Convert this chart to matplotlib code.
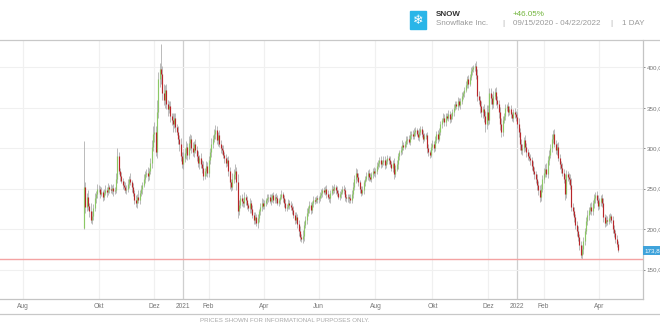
# -*- coding: utf-8 -*-
import matplotlib.pyplot as plt
import numpy as np
import pandas as pd
from matplotlib.lines import Line2D
from matplotlib.patches import Rectangle

# daily closes, 09/16/2020 .. 04/22/2022, one row per month
closes = [
    252, 228, 240, 229, 222, 212, 216, 226, 238, 243, 250,
    250, 244, 246, 240, 245, 248, 246, 252, 250, 248, 251, 247, 249, 262, 290, 272, 266, 260, 255, 252, 248, 250,
    256, 262, 258, 252, 245, 236, 232, 240, 236, 245, 250, 255, 262, 268, 270, 266, 272, 282, 302, 318,
    320, 296, 345, 385, 398, 392, 368, 360, 372, 355, 348, 352, 340, 335, 330, 338, 326, 320, 312, 305, 290, 281,
    288, 294, 302, 292, 306, 312, 300, 296, 305, 298, 290, 282, 288, 280, 276, 266, 272, 278, 270,
    285, 295, 305, 312, 318, 322, 310, 316, 305, 300, 298, 292, 288, 282, 285, 272, 258, 252, 262,
    268, 272, 258, 222, 230, 238, 235, 232, 240, 236, 230, 226, 232, 225, 218, 212, 215, 208, 214, 222, 228, 232, 229,
    232, 236, 238, 240, 235, 238, 242, 236, 240, 238, 233, 236, 240, 243, 238, 232, 226, 228, 233, 230, 228,
    224, 218, 212, 215, 206, 198, 190, 188, 192, 205, 212, 220, 226, 230, 224, 232, 236, 235, 238, 237,
    238, 242, 245, 248, 246, 250, 244, 240, 238, 245, 250, 248, 252, 249, 245, 240, 244, 246, 250, 248, 240, 238,
    240, 238, 236, 244, 252, 262, 270, 265, 258, 250, 245, 248, 258, 262, 266, 270, 264, 262, 268, 272, 270,
    272, 278, 282, 285, 280, 283, 286, 279, 284, 288, 285, 280, 276, 282, 268, 275, 280, 290, 295, 298, 304, 302,
    305, 310, 312, 308, 316, 318, 315, 320, 322, 318, 314, 320, 324, 318, 312, 315, 316, 300, 295, 292, 302,
    305, 300, 310, 318, 312, 320, 330, 335, 338, 332, 340, 338, 342, 336, 340, 345, 350, 355, 352, 358, 354,
    358, 365, 368, 372, 378, 385, 380, 388, 395, 398, 400, 402, 390, 365, 360, 352, 345, 348, 340, 330, 345,
    335, 368, 362, 355, 365, 370, 360, 355, 345, 330, 320, 335, 340, 350, 352, 345, 348, 342, 338, 345, 342, 339,
    330, 320, 305, 298, 300, 310, 302, 295, 290, 288, 285, 278, 272, 268, 262, 255, 248, 240, 250, 262,
    270, 275, 268, 285, 292, 300, 312, 318, 305, 298, 302, 288, 280, 276, 270, 262, 244, 268, 265,
    262, 255, 228, 222, 215, 205, 198, 190, 180, 168, 175, 186, 198, 210, 218, 224, 228, 222, 232, 238, 242, 236, 229,
    234, 238, 232, 215, 208, 212, 210, 214, 216, 212, 200, 195, 188, 182, 173.8,
]
# wick length above the body and below the body
upper_wick = [
    57, 6, 5, 8, 4, 10, 6, 5, 7, 4, 6,
    5, 4, 6, 3, 5, 7, 4, 5, 3, 6, 4, 5, 3, 8, 10, 6, 4, 5, 3, 4, 6, 5,
    6, 4, 7, 3, 5, 4, 6, 3, 8, 4, 5, 3, 6, 4, 5, 7, 4, 6, 8, 10,
    12, 8, 15, 9, 8, 31, 10, 12, 6, 8, 5, 7, 6, 4, 8, 5, 6, 4, 7, 5, 8, 6,
    8, 6, 7, 5, 9, 6, 5, 8, 4, 6, 5, 7, 4, 6, 5, 8, 4, 6, 5,
    6, 5, 8, 4, 6, 7, 5, 4, 6, 5, 4, 6, 3, 5, 4, 6, 5, 4, 7,
    6, 8, 5, 10, 6, 4, 5, 3, 6, 4, 5, 3, 6, 4, 5, 3, 6, 4, 5, 3, 4, 6, 5,
    4, 3, 5, 3, 4, 5, 3, 4, 3, 5, 4, 3, 4, 5, 3, 4, 5, 3, 4, 3, 5,
    4, 5, 3, 6, 4, 5, 6, 4, 7, 5, 4, 6, 3, 5, 4, 3, 5, 4, 3, 4,
    3, 4, 5, 3, 4, 3, 5, 4, 3, 4, 5, 3, 4, 3, 5, 4, 3, 4, 3, 5, 4, 3,
    3, 4, 5, 4, 6, 5, 6, 4, 5, 3, 4, 5, 3, 4, 5, 3, 4, 5, 3, 4, 5,
    4, 5, 3, 4, 5, 3, 4, 5, 3, 4, 3, 5, 4, 3, 6, 4, 5, 4, 3, 5, 6, 4,
    4, 5, 3, 4, 5, 3, 4, 5, 4, 3, 4, 5, 4, 3, 5, 4, 3, 4, 5, 3, 4,
    5, 4, 5, 3, 4, 5, 4, 3, 5, 4, 3, 4, 5, 4, 3, 4, 5, 4, 3, 5, 4,
    4, 5, 3, 4, 5, 4, 5, 4, 5, 4, 3, 3, 6, 8, 6, 5, 6, 4, 7, 6, 8,
    8, 6, 7, 5, 6, 5, 6, 4, 5, 6, 7, 5, 4, 5, 3, 5, 4, 5, 3, 4, 5, 4,
    6, 8, 5, 6, 5, 4, 6, 5, 4, 6, 5, 4, 6, 5, 4, 6, 5, 7, 6, 5,
    6, 5, 7, 5, 6, 5, 6, 4, 6, 5, 4, 6, 5, 4, 6, 5, 6, 5, 4,
    5, 6, 8, 5, 6, 4, 5, 6, 4, 5, 6, 5, 4, 5, 6, 4, 5, 6, 4, 5, 4, 5, 6,
    5, 4, 5, 6, 4, 5, 4, 5, 4, 3, 4, 5, 4, 5, 3,
]
lower_wick = [
    2, 8, 6, 5, 7, 4, 6, 5, 4, 6, 5,
    4, 6, 3, 5, 4, 3, 6, 4, 5, 3, 4, 6, 3, 4, 5, 4, 6, 3, 5, 4, 3, 4,
    4, 5, 3, 6, 4, 5, 4, 6, 3, 5, 4, 6, 3, 5, 4, 6, 5, 4, 6, 5,
    10, 6, 8, 7, 9, 12, 8, 7, 10, 6, 8, 5, 7, 6, 10, 5, 6, 4, 7, 8, 6, 5,
    6, 5, 7, 6, 5, 8, 6, 5, 7, 4, 6, 5, 7, 4, 6, 5, 4, 6, 5,
    5, 4, 6, 5, 4, 6, 5, 7, 4, 6, 5, 4, 6, 5, 4, 6, 8, 5, 4,
    5, 6, 10, 8, 5, 4, 6, 5, 4, 6, 5, 4, 6, 5, 4, 6, 5, 4, 6, 5, 4, 5, 4,
    4, 3, 5, 4, 3, 5, 4, 3, 4, 5, 3, 4, 5, 3, 4, 5, 3, 4, 3, 5, 4,
    5, 4, 6, 4, 5, 6, 5, 4, 5, 6, 4, 5, 4, 6, 5, 4, 5, 4, 3, 4,
    4, 3, 4, 5, 3, 4, 5, 3, 4, 5, 3, 4, 3, 5, 4, 3, 4, 5, 3, 4, 5, 4,
    4, 5, 3, 4, 5, 4, 5, 6, 4, 5, 4, 3, 5, 4, 3, 5, 4, 3, 4, 5, 4,
    5, 4, 3, 5, 4, 3, 4, 5, 3, 4, 5, 3, 4, 5, 6, 4, 3, 5, 4, 3, 5, 4,
    3, 4, 5, 3, 4, 5, 3, 4, 5, 3, 4, 5, 3, 4, 5, 3, 4, 6, 5, 4, 3,
    4, 5, 3, 4, 5, 3, 4, 5, 3, 4, 5, 3, 4, 5, 3, 4, 5, 3, 4, 5, 3,
    5, 3, 4, 5, 3, 4, 5, 3, 4, 5, 4, 4, 5, 6, 5, 8, 6, 7, 8, 10, 6,
    6, 5, 7, 6, 5, 4, 6, 5, 7, 8, 6, 5, 4, 5, 4, 5, 4, 5, 4, 5, 4, 5,
    5, 6, 7, 5, 6, 4, 5, 6, 5, 4, 6, 5, 4, 6, 5, 7, 6, 6, 5, 4,
    5, 6, 4, 5, 6, 4, 5, 6, 4, 5, 6, 4, 5, 6, 4, 5, 8, 6, 5,
    6, 5, 6, 5, 6, 5, 6, 5, 6, 4, 5, 6, 5, 4, 5, 6, 5, 4, 5, 6, 5, 4, 5,
    4, 5, 4, 6, 5, 4, 5, 4, 5, 4, 5, 4, 5, 4, 2,
]
first_open = 202
y_ticks = [150, 200, 250, 300, 350, 400]
month_names = {2: 'Feb', 4: 'Apr', 6: 'Jun', 8: 'Aug', 10: 'Okt', 12: 'Dez'}
holidays = ['2020-11-26', '2020-12-25', '2021-01-01', '2021-01-18', '2021-02-15',
            '2021-04-02', '2021-05-31', '2021-07-05', '2021-09-06', '2021-11-25',
            '2021-12-24', '2022-01-17', '2022-02-21', '2022-04-15']

plt.rcParams['font.family'] = ['Liberation Sans', 'DejaVu Sans']

dates = pd.bdate_range('2020-09-16', '2022-04-22', freq='C', holidays=holidays)
n = min(len(dates), len(closes))
dates = dates[:n]
closes = np.array(closes[:n], dtype=float)
opens = np.r_[first_open, closes[:-1]]
highs = np.maximum(opens, closes) + np.array(upper_wick[:n])
lows = np.minimum(opens, closes) - np.array(lower_wick[:n])
x = np.arange(n)

W, H = 660, 330
fig = plt.figure(figsize=(6.6, 3.3), dpi=100)
ax = fig.add_axes([0, 1 - 299 / H, 643 / W, 259 / H])

# month ticks: first trading day of every second month, january shows the year
tick_pos, tick_lab, year_pos = [-(dates[0] - pd.Timestamp('2020-08-01')).days], ['Aug'], []
s = pd.Series(x, index=dates)
for (yr, mo), grp in s.groupby([dates.year, dates.month]):
    if mo == 1:
        tick_pos.append(grp.iloc[0]); tick_lab.append(str(yr)); year_pos.append(grp.iloc[0])
    elif mo in month_names and not (yr == 2020 and mo == 8):
        tick_pos.append(grp.iloc[0]); tick_lab.append(month_names[mo])

for p in tick_pos:
    ax.axvline(p, color='#cfcfcf' if p in year_pos else '#f0f0f0', lw=0.9, zorder=0)
for v in y_ticks:
    ax.axhline(v, color='#f0f0f0', lw=0.8, zorder=0)

# candles
up = closes >= opens
ax.vlines(x, lows, highs, color='#a8a8a8', lw=0.55, zorder=2)
ax.vlines(x[up], opens[up], closes[up], color='#8cc865', lw=0.85, zorder=3)
ax.vlines(x[~up], opens[~up], closes[~up], color='#b8262a', lw=0.85, zorder=3)

ax.axhline(lows.min(), color='#f4a3a3', lw=1.0, zorder=4)

ax.set_xlim(-63.5, 422)
ax.set_ylim(113.8, 433.8)
ax.set_xticks(tick_pos)
ax.set_xticklabels(tick_lab)
ax.yaxis.tick_right()
ax.set_yticks(y_ticks)
ax.set_yticklabels([f'{v},00' for v in y_ticks])
ax.tick_params(axis='y', labelsize=4.5, colors='#777777', length=1.5, width=0.6, pad=1.2)
ax.tick_params(axis='x', labelsize=4.8, colors='#777777', length=0, pad=3)
for side in ['top', 'left']:
    ax.spines[side].set_visible(False)
for side in ['right', 'bottom']:
    ax.spines[side].set_color('#c4c4c4')
    ax.spines[side].set_linewidth(0.9)

ax.text(1.003, closes[-1], f'{closes[-1]:.2f}'.replace('.', ','), transform=ax.get_yaxis_transform(),
        fontsize=4.5, color='white', va='center', ha='left',
        bbox=dict(boxstyle='square,pad=0.35', fc='#3fa3db', ec='none'))

# header, frame lines, footer
fig.add_artist(Line2D([0, 1], [1 - 40 / H] * 2, color='#c8c8c8', lw=0.9))
fig.add_artist(Line2D([0, 1], [1 - 314 / H] * 2, color='#c8c8c8', lw=0.9))
fig.add_artist(Rectangle((410 / W, 1 - 29 / H), 16 / W, 18 / H, color='#29b5e8', transform=fig.transFigure))
fig.text(418 / W, 1 - 20 / H, '\u2744', family='DejaVu Sans', fontsize=9, color='white', ha='center', va='center')
fig.text(436 / W, 1 - 15 / H, 'SNOW', fontsize=5.8, weight='bold', color='#333333', va='center')
fig.text(436 / W, 1 - 23.5 / H, 'Snowflake Inc.', fontsize=5.8, color='#9a9a9a', va='center')
fig.text(513 / W, 1 - 15 / H, '+46.05%', fontsize=5.8, color='#72b53c', va='center')
fig.text(503 / W, 1 - 23.5 / H, '|', fontsize=5.8, color='#aaaaaa', va='center', ha='center')
fig.text(513 / W, 1 - 23.5 / H, '09/15/2020 - 04/22/2022', fontsize=5.8, color='#9a9a9a', va='center')
fig.text(611 / W, 1 - 23.5 / H, '|', fontsize=5.8, color='#aaaaaa', va='center', ha='center')
fig.text(622 / W, 1 - 23.5 / H, '1 DAY', fontsize=5.8, color='#9a9a9a', va='center')
fig.text(285 / W, 1 - 321 / H, 'PRICES SHOWN FOR INFORMATIONAL PURPOSES ONLY.', fontsize=4.4,
         color='#a8a8a8', ha='center', va='center')

fig.savefig('out.png', dpi=100)
